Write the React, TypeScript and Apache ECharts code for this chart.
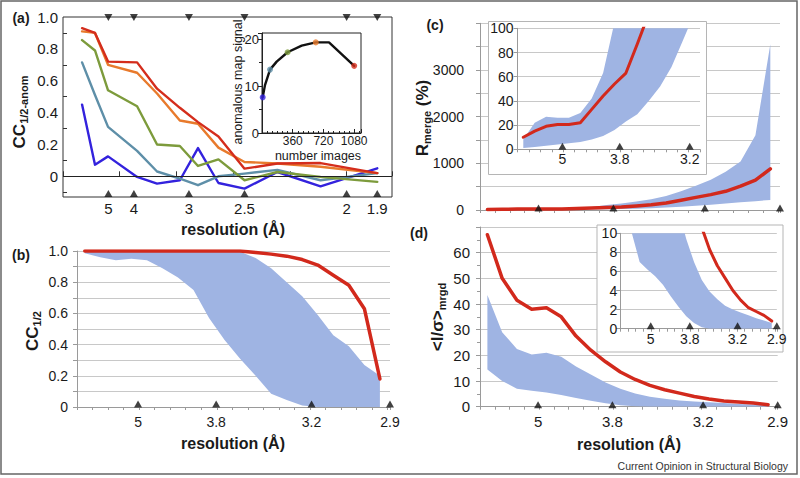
import React, { useEffect, useRef } from 'react';
import * as echarts from 'echarts';

const FONT = "'Liberation Sans', Arial, Helvetica, sans-serif";
const BAND = '#9fb4e3';
const RED = '#d2291c';
const INK = '#1a1a1a';
const GRID = '#c8c8c8';
const AXIS = '#9a9a9a';

// ---------- panel (a): anomalous CC1/2 per resolution bin (x = 1/d^2) ----------
const aBinX = [0.0168, 0.0282, 0.0397, 0.0653, 0.0829, 0.103, 0.119, 0.137, 0.16, 0.189, 0.227, 0.277];
const aBlue = [0.45, 0.073, 0.125, -0.004, -0.046, -0.025, 0.177, -0.042, -0.077, 0.027, -0.063, 0.05];
const aSteel = [0.715, 0.51, 0.31, 0.16, 0.03, -0.015, -0.056, 0.0, 0.017, 0.04, -0.025, 0.02];
const aOlive = [0.855, 0.79, 0.54, 0.44, 0.2, 0.19, 0.065, 0.106, -0.025, 0.027, -0.004, -0.035];
const aOrange = [0.91, 0.9, 0.7, 0.65, 0.52, 0.35, 0.33, 0.18, 0.09, 0.08, 0.06, 0.02];
const aRed = [0.93, 0.9, 0.72, 0.715, 0.55, 0.43, 0.34, 0.25, 0.048, 0.08, 0.083, 0.02];
const aColors = ['#3322dd', '#5e8fa8', '#7d9b3c', '#e87a2c', '#d42d1c'];
const aResLabels = ['5', '4', '3', '2.5', '2', '1.9'];
const aResX = [0.04, 0.0625, 0.111, 0.16, 0.25, 0.277];

// inset of (a): anomalous map signal vs number of images
const insetImages = [8, 35, 94, 172, 300, 465, 630, 785, 1080];
const insetSignal = [7.6, 10.2, 13.5, 15.2, 17.2, 18.6, 19.3, 19.3, 14.3];
const insetDotIdx = [0, 2, 4, 6, 8];

// ---------- panels (b)-(d): equal-volume resolution shells ----------
const shells = [0.5, 1.5, 2.5, 3.5, 4.5, 5.5, 6.5, 7.5, 8.5, 9.5, 10.5, 11.5, 12.5, 13.5, 14.5, 15.5, 16.5, 17.5, 18.5, 19.5];
const resLabels = ['5', '3.8', '3.2', '2.9'];
const resShell = [3.93, 8.96, 15.1, 20.15];

const bLower = [0.985, 0.96, 0.94, 0.95, 0.94, 0.89, 0.83, 0.75, 0.57, 0.43, 0.31, 0.2, 0.085, 0.045, 0.01, 0, 0, 0, 0, 0];
const bUpper = [1, 1, 1, 1, 1, 1, 1, 1, 1, 1, 0.995, 0.955, 0.89, 0.8, 0.71, 0.59, 0.46, 0.39, 0.27, 0.2];
const bRed = [1, 1, 1, 1, 1, 1, 1, 1, 1, 1, 1, 0.99, 0.98, 0.967, 0.945, 0.91, 0.845, 0.78, 0.63, 0.18];

const cRed = [10, 15, 19, 20.5, 20.5, 22, 33, 44, 54, 63, 87, 112, 150, 210, 270, 330, 400, 510, 640, 880];
const cLower = [1, 2, 3, 4, 5, 6, 8, 11, 16, 23, 29, 40, 52, 68, 90, 112, 140, 165, 190, 215];
const cUpper = [8, 22, 27, 26, 26, 30, 42, 63, 105, 140, 180, 230, 300, 400, 520, 650, 820, 1040, 1600, 3550];

const dRed = [67, 50, 41.5, 38, 38.5, 35, 27.5, 22, 17.5, 13.5, 10.6, 8.3, 6.6, 5.3, 4.0, 3.0, 2.2, 1.8, 1.4, 0.8];
const dLower = [14.5, 10, 7, 6.2, 5.5, 4.6, 3.4, 2.3, 1.3, 0.6, 0.15, 0, 0, 0, 0, 0, 0, 0, 0, 0];
const dUpper = [43.5, 29, 22.5, 20.3, 21, 19.5, 15.7, 12.5, 9.4, 7.0, 5.1, 3.9, 3.1, 2.4, 2.0, 1.7, 1.4, 1.1, 0.85, 0.6];

function buildOption(): any {
  const lineSeries = (xi: number, yi: number, xs: number[], ys: number[], color: string, width: number, z = 2) => ({
    type: 'line', xAxisIndex: xi, yAxisIndex: yi, data: xs.map((x, i) => [x, ys[i]]),
    symbol: 'none', lineStyle: { color, width, join: 'round', cap: 'round' }, silent: true, z,
  });
  // shaded range between lower and upper, drawn through the axes' own scales
  const band = (xi: number, yi: number, lower: number[], upper: number[], z = 2) => ({
    type: 'custom', xAxisIndex: xi, yAxisIndex: yi, clip: true, silent: true, z,
    data: shells.map((x, i) => [x, lower[i], upper[i]]),
    encode: { x: 0, y: [1, 2] },
    renderItem: (params: any, api: any) => {
      if (params.dataIndex !== 0) return null;
      const pts: number[][] = [];
      for (let i = 0; i < shells.length; i++) pts.push(api.coord([shells[i], upper[i]]));
      for (let i = shells.length - 1; i >= 0; i--) pts.push(api.coord([shells[i], lower[i]]));
      return { type: 'polygon', shape: { points: pts }, style: { fill: BAND, stroke: 'none' } };
    },
  });
  const tri = (xi: number, yi: number, xs: number[], y: number, off: number, rot = 0, z = 6) => ({
    type: 'scatter', xAxisIndex: xi, yAxisIndex: yi, data: xs.map((x) => [x, y]),
    symbol: 'triangle', symbolSize: [8, 7], symbolRotate: rot, symbolOffset: [0, off],
    itemStyle: { color: '#111' }, clip: false, silent: true, z,
  });
  const lab = (xi: number, yi: number, xs: number[], labels: string[], y: number, dy: number, size: number, z = 6) => ({
    type: 'scatter', xAxisIndex: xi, yAxisIndex: yi,
    data: xs.map((x, i) => ({ value: [x, y], name: labels[i] })),
    symbolSize: 1, itemStyle: { color: 'rgba(0,0,0,0)' }, clip: false, silent: true, z,
    label: { show: true, position: 'inside', offset: [0, dy], formatter: '{b}', color: INK, opacity: 1, fontSize: size, fontFamily: FONT },
  });

  const shellX = (gi: number, max: number, z = 0) => ({
    type: 'value', gridIndex: gi, min: 0, max, interval: 1, z,
    axisLine: { show: true, lineStyle: { color: AXIS, width: 1 } },
    axisTick: { show: true, length: 3, lineStyle: { color: AXIS } },
    axisLabel: { show: false }, splitLine: { show: false },
  });
  const gridY = (gi: number, max: number, interval: number, fmt: (v: number) => string, size: number, margin: number, z = 0, minor = false) => ({
    type: 'value', gridIndex: gi, min: 0, max, interval, z,
    axisLine: { show: true, lineStyle: { color: AXIS } },
    axisTick: { show: true, length: 4, lineStyle: { color: AXIS } },
    minorTick: { show: minor, splitNumber: 2, length: 3, lineStyle: { color: AXIS } },
    axisLabel: { fontSize: size, margin, color: INK, fontFamily: FONT, formatter: fmt },
    splitLine: { show: true, lineStyle: { color: GRID, width: 1 } },
  });

  const grids = [
    { left: 63, top: 17, width: 329, height: 180, show: true, borderColor: '#333', borderWidth: 1 },
    { left: 262, top: 33, width: 99, height: 100, show: true, borderColor: '#222', borderWidth: 1, backgroundColor: '#fff', z: 3 },
    { left: 77, top: 251, width: 313, height: 156 },
    { left: 480, top: 23.3, width: 300, height: 186.7 },
    { left: 517.6, top: 28.3, width: 182.4, height: 121, z: 4 },
    { left: 480, top: 227, width: 297.7, height: 179.7 },
    { left: 620.2, top: 233.3, width: 156.6, height: 95.4, z: 4 },
  ].map((g) => ({ ...g, containLabel: false, outerBoundsMode: 'none' }));

  const xAxis = [
    {
      type: 'value', gridIndex: 0, min: 0, max: 0.29, interval: 0.05,
      axisLine: { show: false }, axisTick: { show: true, inside: true, length: 5, lineStyle: { color: '#333' } },
      axisLabel: { show: false }, splitLine: { show: false },
    },
    {
      type: 'value', gridIndex: 1, min: 0, max: 1160, interval: 360, z: 4,
      axisLine: { show: true, lineStyle: { color: '#222' } },
      axisTick: { show: true, inside: true, length: 4, lineStyle: { color: '#222' } },
      minorTick: { show: true, splitNumber: 6, length: 2, lineStyle: { color: '#222' } },
      axisLabel: { fontSize: 12, margin: 2, color: INK, fontFamily: FONT, formatter: (v: number) => (v > 0 && v % 360 === 0 ? String(v) : '') },
      splitLine: { show: false },
    },
    shellX(2, 20.15),
    shellX(3, 20.15),
    shellX(4, 16, 4),
    shellX(5, 20.15),
    shellX(6, 20.15, 4),
  ];

  const evenTenth = (v: number) => {
    const t = Math.round(v * 10);
    if (t % 2 !== 0) return '';
    return t === 0 ? '0' : (t / 10).toFixed(1);
  };

  const yAxis = [
    {
      type: 'value', gridIndex: 0, min: -0.13, max: 1.0,
      axisLine: { show: false },
      axisTick: { show: true, inside: true, length: 4, customValues: [-0.1, 0.1, 0.3, 0.5, 0.7, 0.9], lineStyle: { color: '#333' } },
      axisLabel: {
        customValues: [0, 0.2, 0.4, 0.6, 0.8, 1.0], fontSize: 15, margin: 5, color: INK, fontFamily: FONT,
        formatter: (v: number) => (Math.abs(v) < 1e-9 ? '0' : v.toFixed(1)),
      },
      splitLine: { show: false },
    },
    {
      type: 'value', gridIndex: 1, min: 0, max: 21.3, interval: 10, z: 4,
      axisLine: { show: true, lineStyle: { color: '#222' } },
      axisTick: { show: true, length: 4, lineStyle: { color: '#222' } },
      minorTick: { show: true, splitNumber: 2, length: 3, lineStyle: { color: '#222' } },
      axisLabel: { fontSize: 13, margin: 3, color: INK, fontFamily: FONT, formatter: (v: number) => (v % 10 === 0 ? String(v) : '') },
      splitLine: { show: false },
    },
    gridY(2, 1, 0.1, evenTenth, 14, 9),
    gridY(3, 4000, 500, (v: number) => (v % 1000 === 0 && v < 4000 ? String(v) : ''), 14, 16),
    gridY(4, 100, 20, (v: number) => String(v), 14, 4, 4),
    gridY(5, 70, 10, (v: number) => (v < 70 ? String(v) : ''), 15, 10, 0, true),
    gridY(6, 10, 2, (v: number) => String(v), 14, 3, 4),
  ];

  const aSets = [aBlue, aSteel, aOlive, aOrange, aRed];
  const series: any[] = [];
  aSets.forEach((ys, k) => {
    const s: any = lineSeries(0, 0, aBinX, ys, aColors[k], 2.4);
    if (k === 0) {
      s.markLine = {
        silent: true, symbol: 'none', label: { show: false },
        lineStyle: { color: '#222', width: 1, type: 'solid' }, data: [{ yAxis: 0 }],
      };
    }
    series.push(s);
  });
  series.push(tri(0, 0, aResX, 1.0, 0.5, 180));
  series.push(tri(0, 0, aResX, -0.13, -3.5));
  series.push(lab(0, 0, aResX, aResLabels, -0.13, 11, 15));
  // inset (a)
  series.push(lineSeries(1, 1, insetImages, insetSignal, '#111', 2.4, 5));
  series.push({
    type: 'scatter', xAxisIndex: 1, yAxisIndex: 1, silent: true, z: 6,
    data: insetDotIdx.map((i, k) => ({ value: [insetImages[i], insetSignal[i]], itemStyle: { color: aColors[k] } })),
    symbolSize: 6,
  });

  // (b)
  series.push(band(2, 2, bLower, bUpper));
  series.push(lineSeries(2, 2, shells, bRed, RED, 3.5, 3));
  series.push(tri(2, 2, resShell, 0, -3));
  series.push(lab(2, 2, resShell, resLabels, 0, 15, 14));

  // (c) main
  series.push(band(3, 3, cLower, cUpper));
  series.push(lineSeries(3, 3, shells, cRed, RED, 3.5, 3));
  series.push(tri(3, 3, resShell, 0, -2));
  // (c) inset
  series.push(band(4, 4, cLower, cUpper, 5));
  series.push(lineSeries(4, 4, shells, cRed, RED, 3, 6));
  series.push(tri(4, 4, resShell.slice(0, 3), 0, -3, 0, 7));
  series.push(lab(4, 4, resShell.slice(0, 3), resLabels.slice(0, 3), 0, 10, 14, 7));

  // (d) main
  series.push(band(5, 5, dLower, dUpper));
  series.push(lineSeries(5, 5, shells, dRed, RED, 3.5, 3));
  series.push(tri(5, 5, resShell, 0, -2));
  series.push(lab(5, 5, resShell, resLabels, 0, 15, 15));
  // (d) inset
  series.push(band(6, 6, dLower, dUpper, 5));
  series.push(lineSeries(6, 6, shells, dRed, RED, 3, 6));
  series.push(tri(6, 6, resShell, 0, -3, 0, 7));
  series.push(lab(6, 6, resShell, resLabels, 0, 10, 14, 7));

  const txt = (x: number, y: number, text: string, size: number, bold = true, extra: any = {}) => ({
    type: 'text', x, y, z: 10, silent: true,
    style: { text, fontSize: size, fontWeight: bold ? 'bold' : 'normal', fontFamily: FONT, fill: INK, align: 'center', verticalAlign: 'middle', ...extra },
  });
  const vtitle = (x: number, y: number, text: string) => ({
    type: 'text', x, y, z: 10, silent: true, rotation: Math.PI / 2,
    style: {
      text, fontFamily: FONT, fill: INK, align: 'center', verticalAlign: 'middle',
      rich: {
        a: { fontSize: 17, fontWeight: 'bold', fontFamily: FONT, fill: INK, lineHeight: 20, verticalAlign: 'middle' },
        b: { fontSize: 11, fontWeight: 'bold', fontFamily: FONT, fill: INK, lineHeight: 12, verticalAlign: 'bottom' },
      },
    },
  });

  const graphic = [
    { type: 'rect', z: 0, silent: true, shape: { x: 1, y: 1, width: 796, height: 473 }, style: { fill: 'none', stroke: '#666', lineWidth: 1.5 } },
    { type: 'rect', z: 3, silent: true, shape: { x: 488.5, y: 21.5, width: 218, height: 153 }, style: { fill: '#fff', stroke: '#b5b5b5', lineWidth: 1 } },
    { type: 'rect', z: 3, silent: true, shape: { x: 597, y: 225, width: 186, height: 127 }, style: { fill: '#fff', stroke: '#b5b5b5', lineWidth: 1 } },
    txt(21, 18, '(a)', 14),
    txt(21, 255, '(b)', 14),
    txt(435, 25, '(c)', 14),
    txt(419, 233, '(d)', 14),
    vtitle(19, 112, '{a|CC}{b|1/2-anom}'),
    vtitle(32, 331, '{a|CC}{b|1/2}'),
    vtitle(422, 118, '{a|R}{b|merge}{a| (%)}'),
    vtitle(437, 317, '{a|<I/σ>}{b|mrgd}'),
    txt(233, 229, 'resolution (Å)', 16),
    txt(233, 443, 'resolution (Å)', 16),
    txt(629, 444, 'resolution (Å)', 16),
    { ...txt(238, 82, 'anomalous map signal', 12.5, false), rotation: Math.PI / 2 },
    txt(318, 156, 'number images', 12.5, false),
    txt(788, 466, 'Current Opinion in Structural Biology', 10.5, false, { align: 'right', fill: '#333' }),
  ];

  return {
    animation: false,
    backgroundColor: '#fff',
    textStyle: { fontFamily: FONT },
    grid: grids,
    xAxis,
    yAxis,
    series,
    graphic: { elements: graphic },
  };
}

export default function App() {
  const ref = useRef<HTMLDivElement>(null);
  useEffect(() => {
    document.body.style.margin = '0';
    const chart = echarts.init(ref.current as HTMLDivElement, undefined, { renderer: 'svg', width: 800, height: 478 });
    chart.setOption(buildOption());
    return () => chart.dispose();
  }, []);
  return <div ref={ref} style={{ width: 800, height: 478 }} />;
}
